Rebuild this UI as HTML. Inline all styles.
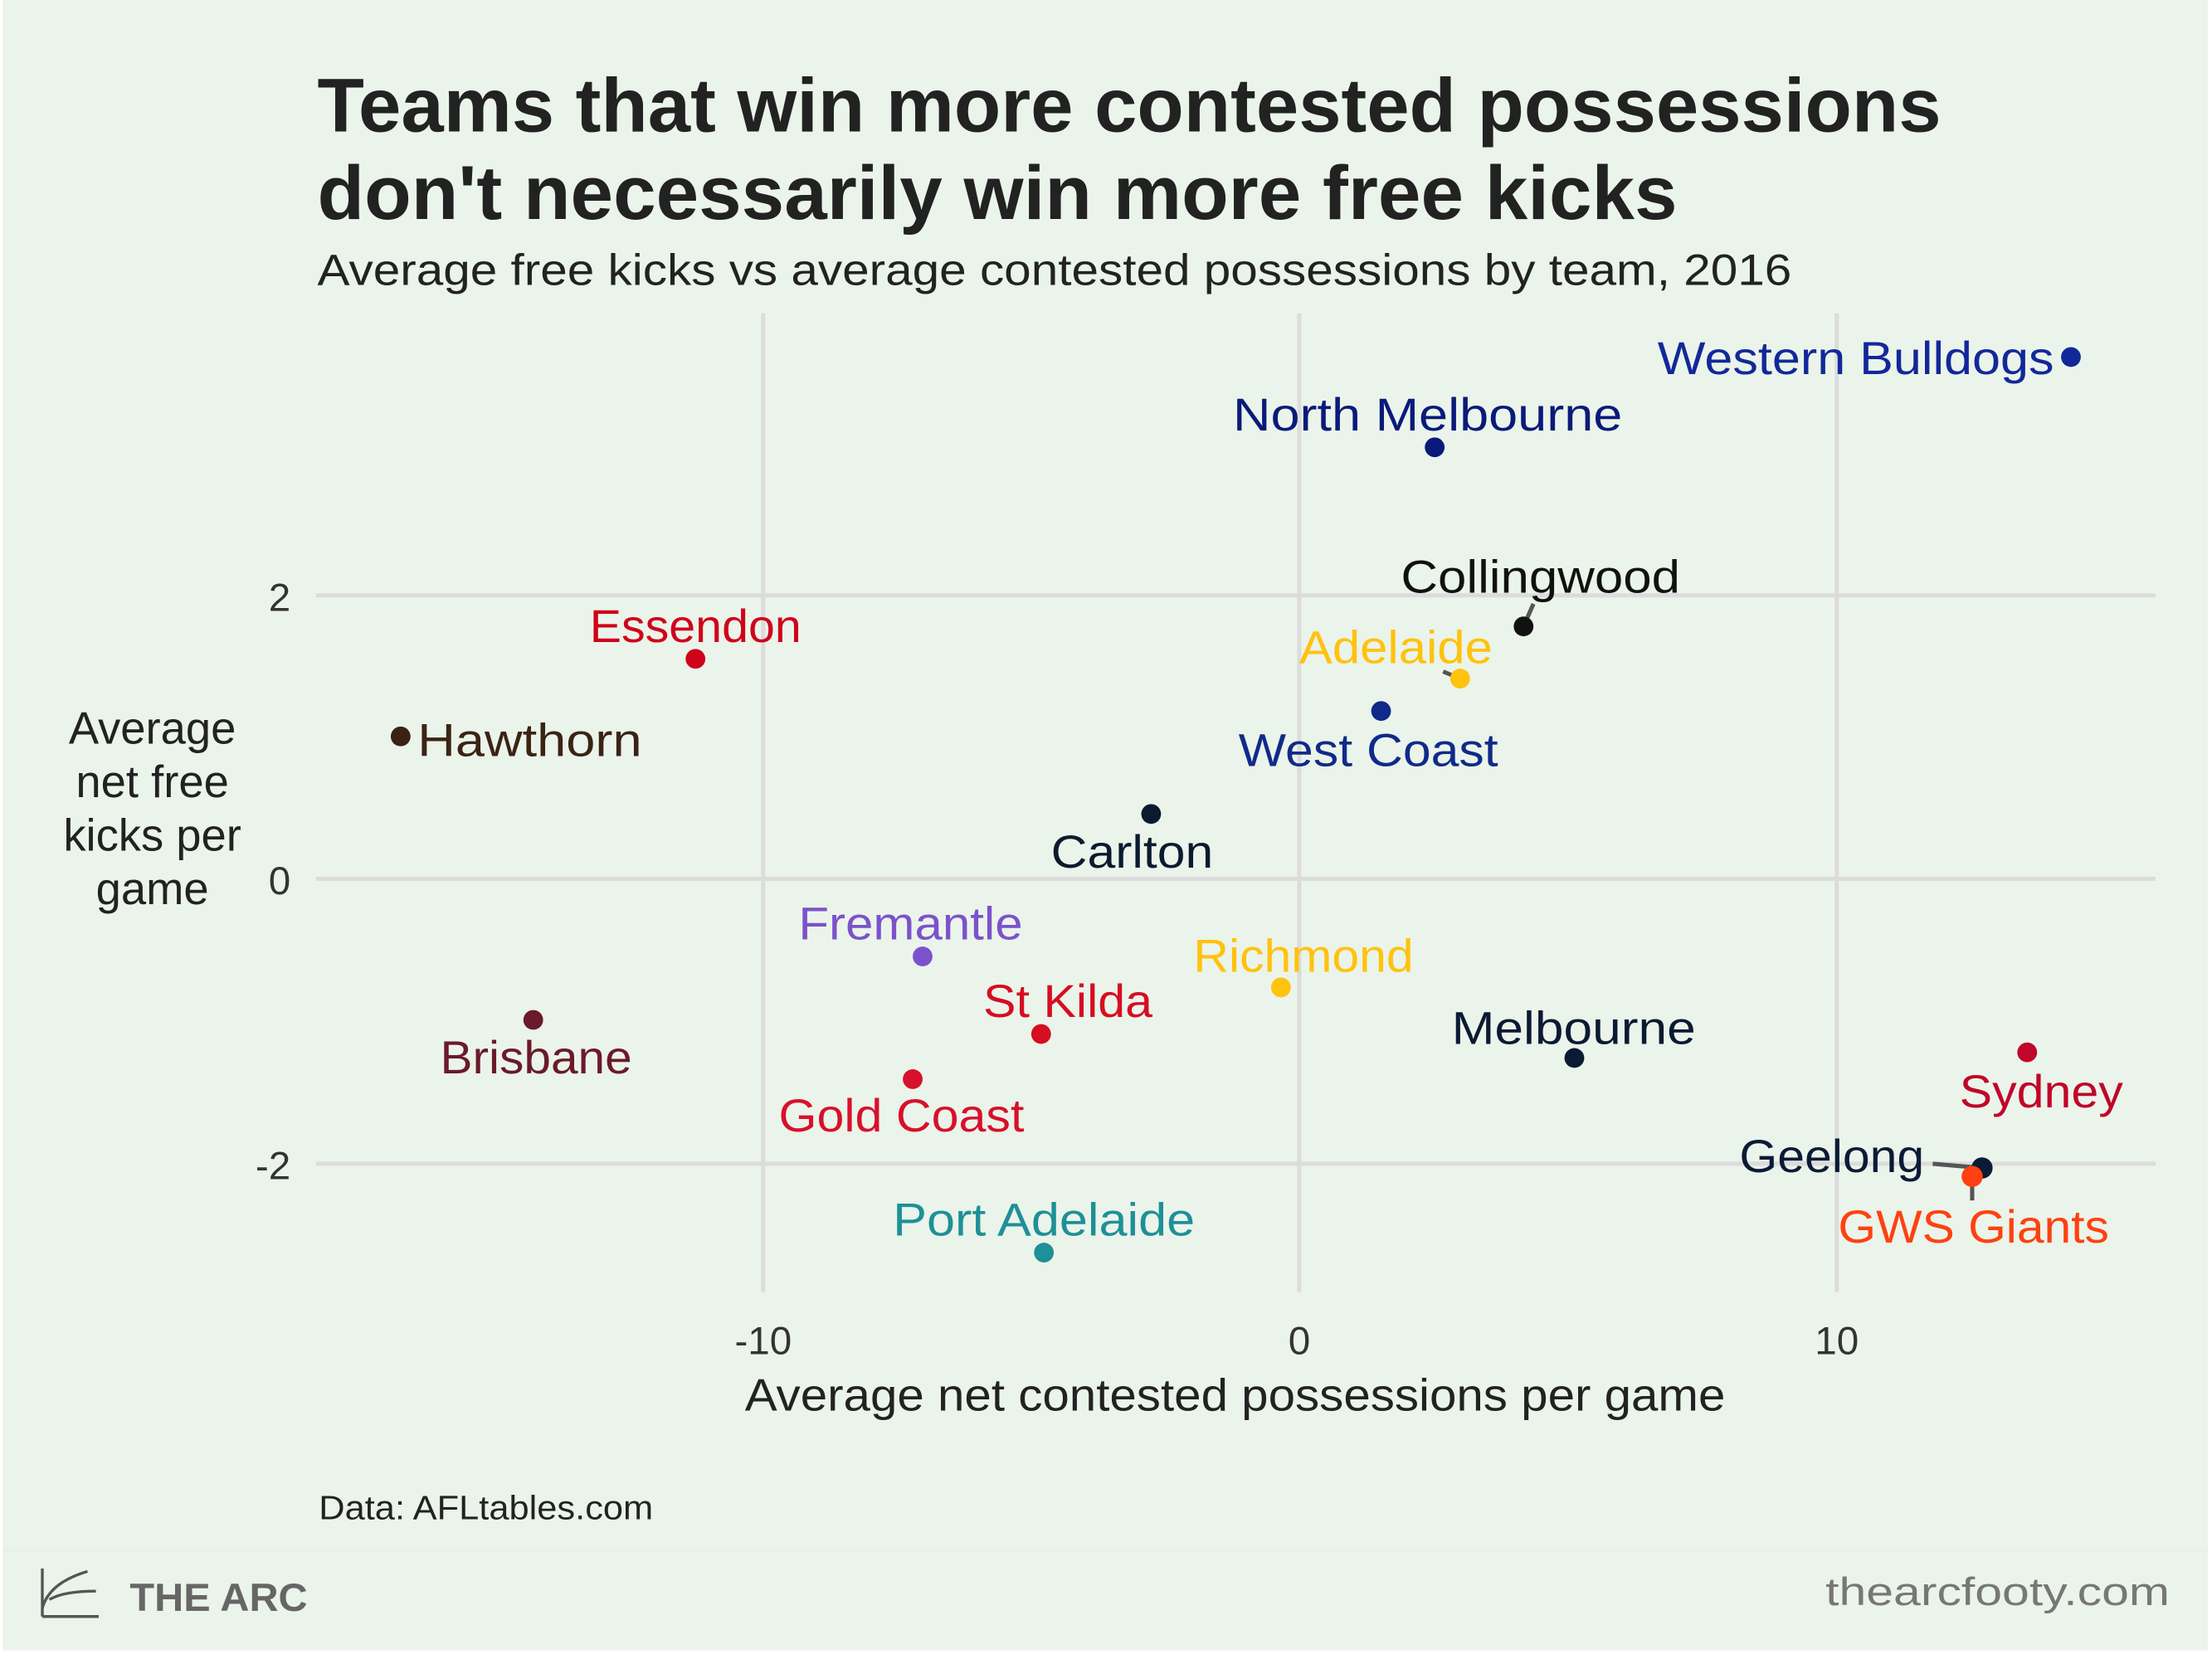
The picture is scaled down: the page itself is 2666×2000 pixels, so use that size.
<!DOCTYPE html>
<html><head><meta charset="utf-8"><style>
html,body{margin:0;padding:0;background:#fff;}
svg{display:block;}
text{font-family:"Liberation Sans",sans-serif;}
</style></head><body>
<svg width="2666" height="2000" viewBox="0 0 1568 1176" xmlns="http://www.w3.org/2000/svg">
<rect x="0" y="0" width="1568" height="1176" fill="#fff"/>
<rect x="2" y="0" width="1563" height="1170" fill="#EBF4EA"/>
<rect x="2" y="1098" width="1563" height="2" fill="#e6f0e5"/>
<g stroke="#dcdcdc" stroke-width="3">
<line x1="224" y1="422" x2="1528" y2="422"/>
<line x1="224" y1="623" x2="1528" y2="623"/>
<line x1="224" y1="825" x2="1528" y2="825"/>
<line x1="541" y1="222" x2="541" y2="916"/>
<line x1="921" y1="222" x2="921" y2="916"/>
<line x1="1302" y1="222" x2="1302" y2="916"/>
</g>
<text x="225" y="93" font-size="54" font-weight="bold" fill="#222" textLength="1151" lengthAdjust="spacingAndGlyphs">Teams that win more contested possessions</text>
<text x="225" y="155" font-size="54" font-weight="bold" fill="#222" textLength="964" lengthAdjust="spacingAndGlyphs">don't necessarily win more free kicks</text>
<text x="225" y="202" font-size="31" fill="#222" textLength="1045" lengthAdjust="spacingAndGlyphs">Average free kicks vs average contested possessions by team, 2016</text>
<g font-size="28" fill="#333">
<text x="206" y="433" text-anchor="end">2</text>
<text x="206" y="634" text-anchor="end">0</text>
<text x="206" y="836" text-anchor="end">-2</text>
<text x="541" y="960" text-anchor="middle">-10</text>
<text x="921" y="960" text-anchor="middle">0</text>
<text x="1302" y="960" text-anchor="middle">10</text>
</g>
<g font-size="32" fill="#222" text-anchor="middle">
<text x="108" y="527">Average</text>
<text x="108" y="565">net free</text>
<text x="108" y="603">kicks per</text>
<text x="108" y="641">game</text>
</g>
<text x="528" y="1000" font-size="32" fill="#222" textLength="695" lengthAdjust="spacingAndGlyphs">Average net contested possessions per game</text>
<text x="226" y="1077" font-size="24" fill="#222" textLength="237" lengthAdjust="spacingAndGlyphs">Data: AFLtables.com</text>
<path d="M30 1112 L30 1146 M30 1146 L70 1146 M30 1140 Q35 1122 62 1114 M35 1134 Q45 1128 68 1128" stroke="#555" stroke-width="2" fill="none"/>
<text x="92" y="1142" font-size="28" font-weight="bold" fill="#666" textLength="126" lengthAdjust="spacingAndGlyphs">THE ARC</text>
<text x="1538" y="1138" font-size="28" fill="#777" text-anchor="end" textLength="244" lengthAdjust="spacingAndGlyphs">thearcfooty.com</text>
<g stroke="#555" stroke-width="3" fill="none">
<line x1="1080" y1="444" x2="1087" y2="428"/>
<line x1="1035" y1="481" x2="1023" y2="476"/>
<line x1="1405" y1="828" x2="1370" y2="825"/>
<line x1="1398" y1="834" x2="1398" y2="851"/>
</g>
<g>
<circle cx="1468" cy="253" r="7" fill="#12289A"/>
<circle cx="1017" cy="317" r="7" fill="#0A1A7A"/>
<circle cx="1080" cy="444" r="7" fill="#111"/>
<circle cx="1035" cy="481" r="7" fill="#FFC20E"/>
<circle cx="979" cy="504" r="7" fill="#102A8A"/>
<circle cx="493" cy="467" r="7" fill="#D0021B"/>
<circle cx="284" cy="522" r="7" fill="#3B2314"/>
<circle cx="816" cy="577" r="7" fill="#0B1A2E"/>
<circle cx="654" cy="678" r="7" fill="#7B52CC"/>
<circle cx="908" cy="700" r="7" fill="#FFC20E"/>
<circle cx="738" cy="733" r="7" fill="#D50E22"/>
<circle cx="378" cy="723" r="7" fill="#6A1A2A"/>
<circle cx="647" cy="765" r="7" fill="#D8102B"/>
<circle cx="1116" cy="750" r="7" fill="#0A1A33"/>
<circle cx="1437" cy="746" r="7" fill="#C0062A"/>
<circle cx="1405" cy="828" r="7.5" fill="#0B1B36"/>
<circle cx="1398" cy="834" r="7.5" fill="#FF4010"/>
<circle cx="740" cy="888" r="7" fill="#1E9098"/>
</g>
<g font-size="33">
<text x="1175" y="265" fill="#12289A" textLength="281" lengthAdjust="spacingAndGlyphs">Western Bulldogs</text>
<text x="874" y="305" fill="#0A1A7A" textLength="276" lengthAdjust="spacingAndGlyphs">North Melbourne</text>
<text x="993" y="420" fill="#111" textLength="198" lengthAdjust="spacingAndGlyphs">Collingwood</text>
<text x="921" y="470" fill="#FFC20E" textLength="137" lengthAdjust="spacingAndGlyphs">Adelaide</text>
<text x="878" y="543" fill="#102A8A" textLength="184" lengthAdjust="spacingAndGlyphs">West Coast</text>
<text x="418" y="455" fill="#D0021B" textLength="150" lengthAdjust="spacingAndGlyphs">Essendon</text>
<text x="296" y="536" fill="#3B2314" textLength="159" lengthAdjust="spacingAndGlyphs">Hawthorn</text>
<text x="745" y="615" fill="#0B1A2E" textLength="115" lengthAdjust="spacingAndGlyphs">Carlton</text>
<text x="566" y="666" fill="#7B52CC" textLength="159" lengthAdjust="spacingAndGlyphs">Fremantle</text>
<text x="846" y="689" fill="#FFC20E" textLength="156" lengthAdjust="spacingAndGlyphs">Richmond</text>
<text x="697" y="721" fill="#D50E22" textLength="120" lengthAdjust="spacingAndGlyphs">St Kilda</text>
<text x="312" y="761" fill="#6A1A2A" textLength="136" lengthAdjust="spacingAndGlyphs">Brisbane</text>
<text x="552" y="802" fill="#D8102B" textLength="174" lengthAdjust="spacingAndGlyphs">Gold Coast</text>
<text x="1029" y="740" fill="#0A1A33" textLength="173" lengthAdjust="spacingAndGlyphs">Melbourne</text>
<text x="1389" y="785" fill="#C0062A" textLength="116" lengthAdjust="spacingAndGlyphs">Sydney</text>
<text x="1233" y="831" fill="#0B1B36" textLength="131" lengthAdjust="spacingAndGlyphs">Geelong</text>
<text x="1303" y="881" fill="#FF4010" textLength="192" lengthAdjust="spacingAndGlyphs">GWS Giants</text>
<text x="633" y="876" fill="#1E9098" textLength="214" lengthAdjust="spacingAndGlyphs">Port Adelaide</text>
</g>
</svg>
</body></html>
